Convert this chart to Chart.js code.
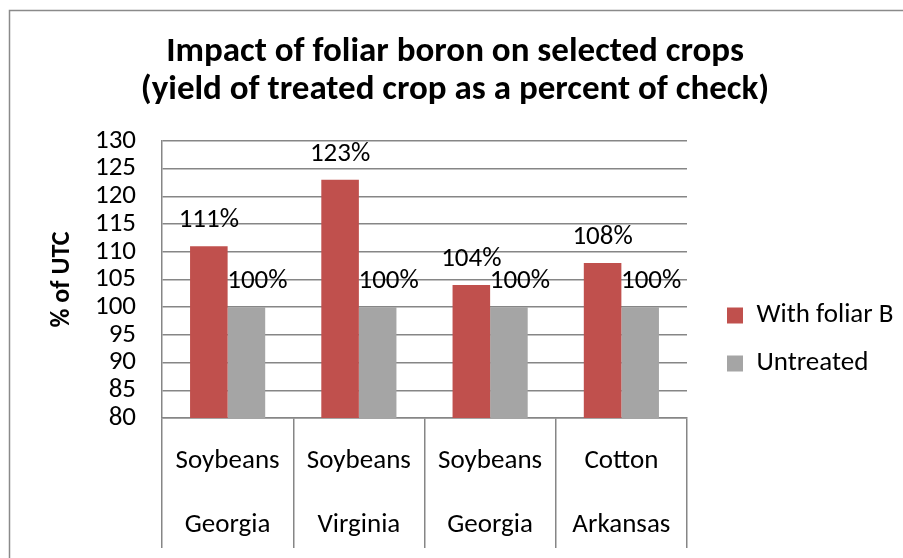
<!DOCTYPE html>
<html><head><meta charset="utf-8">
<script src="https://cdn.jsdelivr.net/npm/chart.js@4"></script>
<style>html,body{margin:0;padding:0;background:#fff}#wrap{width:903px;height:558px;position:relative;background:#fff}</style>
</head><body><div id="wrap"><canvas id="c" width="903" height="558"></canvas></div>
<script>
const crops = ["Soybeans", "Soybeans", "Soybeans", "Cotton"];
const states = ["Georgia", "Virginia", "Georgia", "Arkansas"];
const withFoliarB = [111, 123, 104, 108];
const untreated = [100, 100, 100, 100];
const seriesNames = ["With foliar B", "Untreated"];
const yMin = 80, yMax = 130, yStep = 5;
const titleLines = ["Impact of foliar boron on selected crops", "(yield of treated crop as a percent of check)"];
const yAxisTitle = "% of UTC";

const FONT = "Carlito, Lato, sans-serif";
const GRID = "#868686";
const TXT = 27;

const frame = {
  id: 'frame',
  beforeDraw(chart) {
    const ctx = chart.ctx;
    ctx.save();
    ctx.fillStyle = '#fff';
    ctx.fillRect(0, 0, chart.width, chart.height);
    ctx.strokeStyle = '#8a8a8a';
    ctx.lineWidth = 1.5;
    ctx.beginPath();
    ctx.moveTo(9.5, chart.height + 2);
    ctx.lineTo(9.5, 10.5);
    ctx.lineTo(chart.width + 2, 10.5);
    ctx.stroke();
    ctx.restore();
  }
};

const legendShift = {
  id: 'legendShift',
  afterLayout(chart) {
    const lg = chart.legend;
    const dx = 727 - (lg.left + lg.options.labels.padding);
    lg.left += dx;
    lg.right = chart.width;
    lg.width = lg.right - lg.left;
    const h = lg.bottom - lg.top;
    lg.top = 281; lg.bottom = 281 + h;
  }
};

const dataLabels = {
  id: 'dataLabels',
  afterDatasetsDraw(chart) {
    const ctx = chart.ctx;
    ctx.save();
    ctx.font = TXT + "px " + FONT;
    ctx.fillStyle = '#000';
    ctx.textAlign = 'center';
    ctx.textBaseline = 'middle';
    chart.data.datasets.forEach((ds, i) => {
      chart.getDatasetMeta(i).data.forEach((bar, j) => {
        ctx.fillText(ds.data[j] + '%', bar.x + (i === 1 ? 11 : 0), bar.y - 26);
      });
    });
    ctx.restore();
  }
};

new Chart(document.getElementById('c'), {
  type: 'bar',
  data: {
    labels: crops.map((c, i) => [c, states[i]]),
    datasets: [
      { label: seriesNames[0], data: withFoliarB, backgroundColor: '#C0504D' },
      { label: seriesNames[1], data: untreated, backgroundColor: '#A5A5A5' }
    ]
  },
  options: {
    responsive: false,
    animation: false,
    devicePixelRatio: 1,
    layout: { padding: { left: 40, right: 33, top: 0, bottom: 0 } },
    datasets: { bar: { categoryPercentage: 0.5725, barPercentage: 1.0 } },
    plugins: {
      title: {
        display: true,
        text: titleLines,
        color: '#000',
        font: { family: FONT, size: 35, weight: 'bold', lineHeight: '38px' },
        padding: { top: 33, bottom: 32 }
      },
      legend: {
        position: 'right',
        align: 'start',
        maxWidth: 183,
        labels: {
          color: '#000',
          font: { family: FONT, size: TXT },
          boxWidth: 16, boxHeight: 16,
          padding: 21
        }
      },
      tooltip: { enabled: false }
    },
    scales: {
      x: {
        grid: { display: true, drawOnChartArea: false, drawTicks: true, tickLength: 130, offset: true, color: GRID, lineWidth: 1.5 },
        border: { display: true, color: GRID, width: 1.5 },
        ticks: { color: '#000', font: { family: FONT, size: TXT, lineHeight: '64px' }, padding: -119, maxRotation: 0, minRotation: 0, autoSkip: false },
        afterFit(scale) { scale.height = 140; }
      },
      y: {
        min: yMin, max: yMax,
        grid: { color: GRID, drawTicks: false, lineWidth: 1.5 },
        border: { display: true, color: GRID, width: 1.5 },
        ticks: { stepSize: yStep, autoSkip: false, color: '#000', font: { family: FONT, size: TXT, lineHeight: '27px' }, padding: 26 },
        title: { display: true, text: yAxisTitle, color: '#000', font: { family: FONT, size: 26, weight: 'bold', lineHeight: '30px' }, padding: { top: 7, bottom: 0 } },
        afterFit(scale) { scale.width = 122; }
      }
    }
  },
  plugins: [frame, legendShift, dataLabels]
});
</script>
</body></html>
